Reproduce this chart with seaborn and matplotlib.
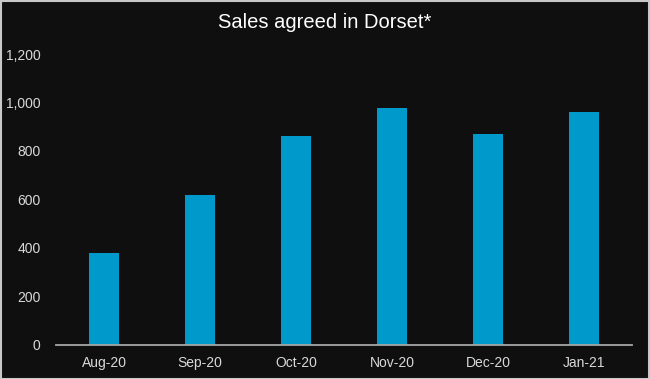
import numpy as np
import pandas as pd
import matplotlib
matplotlib.use("Agg")
import matplotlib.pyplot as plt
import matplotlib.ticker as ticker
import seaborn as sns

months = ["Aug-20", "Sep-20", "Oct-20", "Nov-20", "Dec-20", "Jan-21"]
sales = [380, 620, 860, 978, 870, 962]

df = pd.DataFrame({"month": months, "sales": sales})

sns.set_style("dark")
plt.rcParams["font.family"] = ["Liberation Sans", "DejaVu Sans"]

bg = "#0f0f0f"
fig = plt.figure(figsize=(6.5, 3.79), dpi=100, facecolor=bg)
ax = fig.add_axes([56/650, 1 - 345/379, 576/650, 291/379])
ax.set_facecolor(bg)

sns.barplot(data=df, x="month", y="sales", color="#0099cc", width=0.32,
            saturation=1, edgecolor="none", linewidth=0, ax=ax)

ax.set_ylim(0, 1200)
ax.set_xlim(-0.5, 5.5)
ax.yaxis.set_major_locator(ticker.MultipleLocator(200))
ax.yaxis.set_major_formatter(ticker.FuncFormatter(lambda v, p: f"{int(v):,}"))
ax.set_xlabel("")
ax.set_ylabel("")
ax.grid(False)
for s in ["top", "right", "left"]:
    ax.spines[s].set_visible(False)
ax.spines["bottom"].set_color("#a6a6a6")
ax.spines["bottom"].set_linewidth(1.3)
ax.tick_params(axis="both", length=0, colors="#d9d9d9", labelsize=10)
ax.tick_params(axis="y", pad=11)
ax.tick_params(axis="x", pad=8)

fig.text(0.5, 1 - 22/379, "Sales agreed in Dorset*", color="white",
         fontsize=14.5, ha="center", va="center")

fig.patches.append(plt.Rectangle((0.001, 0.001), 0.998, 0.997, transform=fig.transFigure,
                                 fill=False, edgecolor="#c8c8c8", linewidth=1.5))

fig.savefig("out.png", dpi=100, facecolor=bg)
